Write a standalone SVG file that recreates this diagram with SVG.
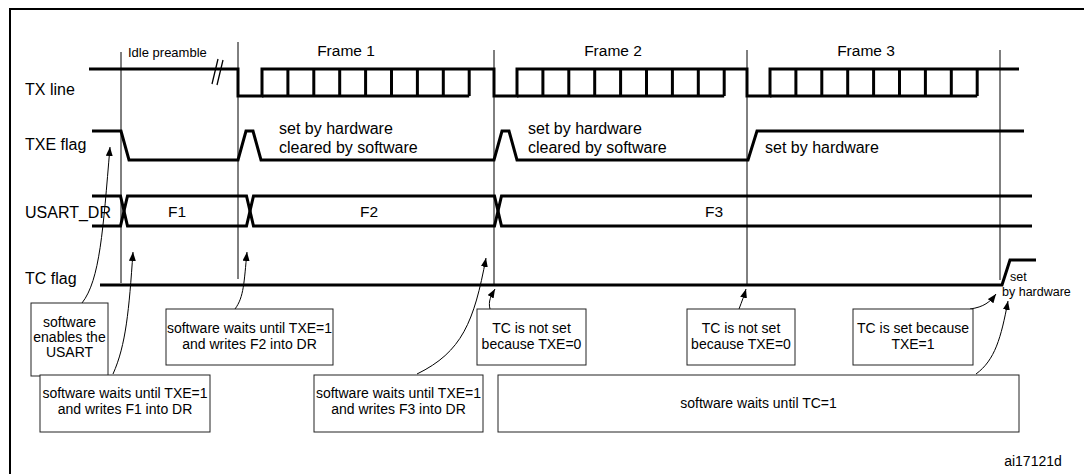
<svg xmlns="http://www.w3.org/2000/svg" width="1084" height="474" viewBox="0 0 1084 474">
<defs>
<style>
text{font-family:"Liberation Sans",Arial,sans-serif;fill:#000}
.lbl{font-size:16px}
.frm{font-size:15.5px;text-anchor:middle}
.box{font-size:14px;text-anchor:middle}
.sm{font-size:13px}
.tiny{font-size:12.5px}
.sig{fill:none;stroke:#000;stroke-width:3;stroke-linejoin:miter}
.thin{fill:none;stroke:#000;stroke-width:1}
.bx{fill:#fff;stroke:#222;stroke-width:1}
.con{fill:none;stroke:#000;stroke-width:1;marker-end:url(#ah)}
</style>
<marker id="ah" markerUnits="userSpaceOnUse" markerWidth="10" markerHeight="8" refX="9" refY="3.5" orient="auto"><path d="M0,0 L9,3.5 L0,7 z" fill="#000"/></marker>
</defs>
<rect x="10" y="9" width="1090" height="480" fill="#fff" stroke="#000" stroke-width="2"/>

<g id="markers">
<path class="thin" d="M121,52 V283 M238,42 V279 M494,50 V285 M747,50 V285 M1000,50 V280"/>
</g>

<g id="tx-line">
<text class="lbl" x="25" y="95">TX line</text>
<text class="sm" x="128" y="57">Idle preamble</text>
<text class="frm" x="346" y="56">Frame 1</text>
<text class="frm" x="613" y="56">Frame 2</text>
<text class="frm" x="866" y="56">Frame 3</text>
<path class="sig" d="M89,69 H238 V96 H262 V69 H494 V96 H517 V69 H747 V96 H770 V69 H1019"/>
<path class="sig" d="M262,96 H469.2 M287.9,69 V96 M313.8,69 V96 M339.7,69 V96 M365.6,69 V96 M391.5,69 V96 M417.4,69 V96 M443.3,69 V96 M469.2,69 V96"/>
<path class="sig" d="M517,96 H724.2 M542.9,69 V96 M568.8,69 V96 M594.7,69 V96 M620.6,69 V96 M646.5,69 V96 M672.4,69 V96 M698.3,69 V96 M724.2,69 V96"/>
<path class="sig" d="M770,96 H977.2 M795.9,69 V96 M821.8,69 V96 M847.7,69 V96 M873.6,69 V96 M899.5,69 V96 M925.4,69 V96 M951.3,69 V96 M977.2,69 V96"/>
<path fill="none" stroke="#000" stroke-width="1.3" d="M212,84 L218,59 M217,85 L223,60"/>
</g>

<g id="txe-flag">
<text class="lbl" x="25" y="150">TXE flag</text>
<path class="sig" d="M92,131 H121 L129,160 H238 L246,131 H253 L261,160 H494 L502,131 H509 L517,160 H748 L757,131 H1024"/>
<text class="lbl" x="279" y="134">set by hardware</text>
<text class="lbl" x="279" y="153">cleared by software</text>
<text class="lbl" x="528" y="134">set by hardware</text>
<text class="lbl" x="528" y="153">cleared by software</text>
<text class="lbl" x="765" y="153">set by hardware</text>
</g>

<g id="usart-dr">
<text class="lbl" x="25" y="218">USART_DR</text>
<path class="sig" d="M92,196 H120.5 L124,211 L120.5,226 H92"/>
<path class="sig" d="M127.5,196 H246.5 L250,211 L246.5,226 H127.5 L124,211 Z"/>
<path class="sig" d="M253.5,196 H494.5 L498,211 L494.5,226 H253.5 L250,211 Z"/>
<path class="sig" d="M1032,196 H501.5 L498,211 L501.5,226 H1032"/>
<text class="frm" x="177" y="217">F1</text>
<text class="frm" x="369" y="217">F2</text>
<text class="frm" x="714" y="217">F3</text>
</g>

<g id="tc-flag">
<text class="lbl" x="25" y="284">TC flag</text>
<path class="sig" d="M100,285 H1002 L1010,260 H1036"/>
<text class="tiny" x="1010" y="281">set</text>
<text class="tiny" x="1002" y="296">by hardware</text>
</g>

<g id="connectors">
<path class="con" d="M82,303 C100,280 103,230 110,147"/>
<path class="con" d="M113,374 C126,345 129,310 133,252"/>
<path class="con" d="M235,309 C244,297 244,282 247,252"/>
<path class="con" d="M417,374 C462,352 474,322 486,258"/>
<path class="con" d="M490,309 C488,301 491,296 495,289"/>
<path class="con" d="M739,309 C742,301 744,296 746,289"/>
<path class="con" d="M970,309 C984,307 990,302 996,294"/>
<path class="con" d="M976,374 C995,360 1001,338 1008,301"/>
</g>

<g id="box-enable">
<rect class="bx" x="31" y="303" width="77" height="73"/>
<text class="box" x="69.5" y="327">software</text>
<text class="box" x="69.5" y="342">enables the</text>
<text class="box" x="69.5" y="357">USART</text>
</g>
<g id="box-f2">
<rect class="bx" x="166" y="309" width="167" height="56"/>
<text class="box" x="249.5" y="333">software waits until TXE=1</text>
<text class="box" x="249.5" y="349">and writes F2 into DR</text>
</g>
<g id="box-f1">
<rect class="bx" x="40" y="375" width="170" height="57"/>
<text class="box" x="125" y="398">software waits until TXE=1</text>
<text class="box" x="125" y="414">and writes F1 into DR</text>
</g>
<g id="box-f3">
<rect class="bx" x="314" y="375" width="169" height="57"/>
<text class="box" x="398.5" y="398">software waits until TXE=1</text>
<text class="box" x="398.5" y="414">and writes F3 into DR</text>
</g>
<g id="box-tc1">
<rect class="bx" x="477" y="309" width="109" height="56"/>
<text class="box" x="531.5" y="333">TC is not set</text>
<text class="box" x="531.5" y="349">because TXE=0</text>
</g>
<g id="box-tc2">
<rect class="bx" x="687" y="309" width="108" height="56"/>
<text class="box" x="741" y="333">TC is not set</text>
<text class="box" x="741" y="349">because TXE=0</text>
</g>
<g id="box-tc3">
<rect class="bx" x="853" y="309" width="120" height="56"/>
<text class="box" x="913" y="333">TC is set because</text>
<text class="box" x="913" y="349">TXE=1</text>
</g>
<g id="box-wait-tc">
<rect class="bx" x="498" y="375" width="521" height="57"/>
<text class="box" x="758.5" y="408">software waits until TC=1</text>
</g>

<text class="box" x="1033" y="466">ai17121d</text>
</svg>
